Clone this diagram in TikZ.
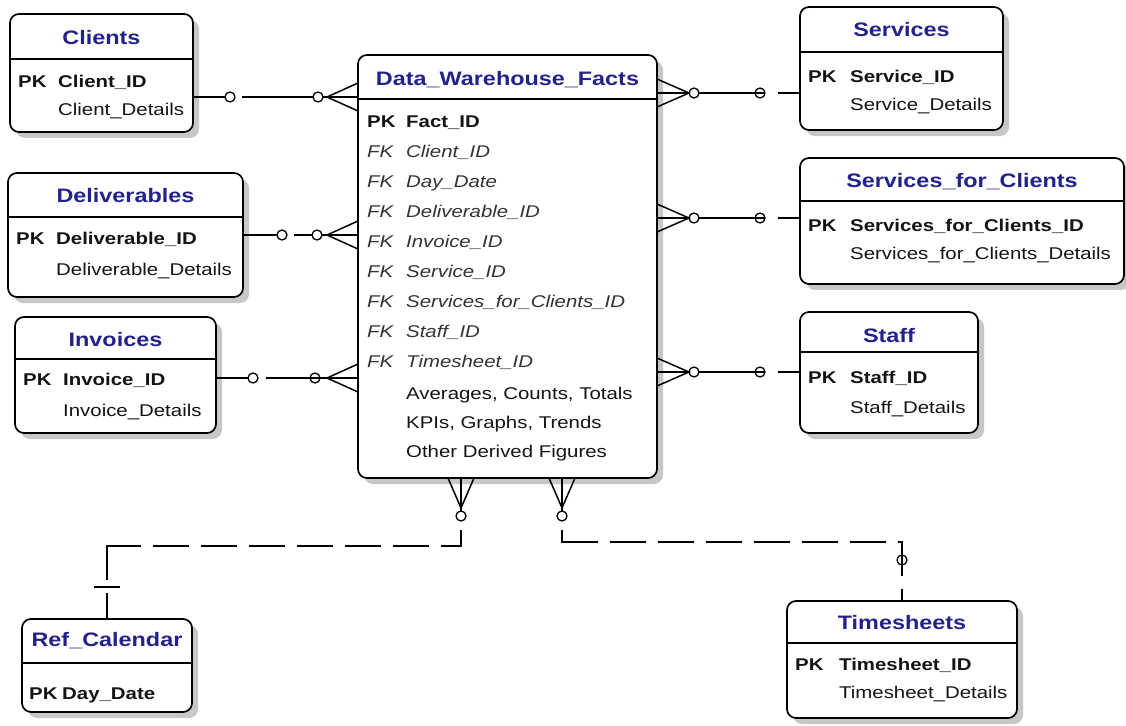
\documentclass[tikz,border=0pt]{standalone}
\usepackage{fontspec}
\setmainfont{Liberation Sans}[FakeStretch=1.2]
\usetikzlibrary{shadows,calc}
\definecolor{ttlblue}{HTML}{22228A}
\definecolor{txt}{HTML}{141414}
\definecolor{fktxt}{HTML}{333333}
\newcommand\entbox[6]{%
  \node[entity, minimum width={#4-#2}, minimum height={#5-#3}] (#1) at ({(#2+#4)/2},{(#3+#5)/2}) {};
  \draw[boxline] (#1.west |- 0,#6) -- (#1.east |- 0,#6);}
\begin{document}
\begin{tikzpicture}[x=1pt,y=-1pt,
  entity/.style={draw, line width=1.7pt, rounded corners=9pt, fill=white, inner sep=0pt, outer sep=0pt,
    drop shadow={shadow xshift=6pt, shadow yshift=-6pt, fill=black!22, opacity=1}},
  boxline/.style={line width=1.6pt},
  rel/.style={line width=1.5pt},
  ring/.style={circle, draw, line width=1.3pt, fill=white, inner sep=0pt, outer sep=0pt, minimum size=10pt},
  xring/.style={ring, fill=none},
  ttl/.style={font=\fontsize{19.5}{22}\selectfont\bfseries, text=ttlblue, anchor=base, inner sep=0pt},
  pkl/.style={font=\fontsize{17}{20}\selectfont\bfseries, text=txt, anchor=base west, inner sep=0pt},
  fkl/.style={font=\fontsize{17}{20}\selectfont\itshape, text=fktxt, anchor=base west, inner sep=0pt},
  atl/.style={font=\fontsize{17}{20}\selectfont, text=txt, anchor=base west, inner sep=0pt}]
\useasboundingbox (0,0) rectangle (1126,725);
\fill[white] (0,0) rectangle (1126,725);

% ---------- entities ----------
\entbox{clients}{10}{14}{193}{132}{59}
\node[ttl] (clients-t) at (101.5,45) {Clients};
\node[pkl] (clients-pk) at (18,87) {PK};
\node[pkl] (clients-id) at (58,87) {Client\_ID};
\node[atl] (clients-d) at (58,115) {Client\_Details};

\entbox{deliv}{8}{173}{243}{297}{217}
\node[ttl] (deliv-t) at (125.5,202) {Deliverables};
\node[pkl] (deliv-pk) at (16,244) {PK};
\node[pkl] (deliv-id) at (56,244) {Deliverable\_ID};
\node[atl] (deliv-d) at (56,275) {Deliverable\_Details};

\entbox{invoices}{15}{317}{216}{433}{359}
\node[ttl] (inv-t) at (115.5,346) {Invoices};
\node[pkl] (inv-pk) at (23,385) {PK};
\node[pkl] (inv-id) at (63,385) {Invoice\_ID};
\node[atl] (inv-d) at (63,416) {Invoice\_Details};

\entbox{services}{800}{7}{1003}{130}{52}
\node[ttl] (srv-t) at (901.5,37) {Services};
\node[pkl] (srv-pk) at (808,82) {PK};
\node[pkl] (srv-id) at (850,82) {Service\_ID};
\node[atl] (srv-d) at (850,110) {Service\_Details};

\entbox{sfc}{800}{158}{1124}{284}{201}
\node[ttl] (sfc-t) at (962,187) {Services\_for\_Clients};
\node[pkl] (sfc-pk) at (808,231) {PK};
\node[pkl] (sfc-id) at (850,231) {Services\_for\_Clients\_ID};
\node[atl] (sfc-d) at (850,259) {Services\_for\_Clients\_Details};

\entbox{staff}{800}{312}{978}{433}{352}
\node[ttl] (stf-t) at (889,342) {Staff};
\node[pkl] (stf-pk) at (808,383) {PK};
\node[pkl] (stf-id) at (850,383) {Staff\_ID};
\node[atl] (stf-d) at (850,413) {Staff\_Details};

\entbox{timesheets}{787}{601}{1017}{718}{643}
\node[ttl] (ts-t) at (902,629) {Timesheets};
\node[pkl] (ts-pk) at (795,670) {PK};
\node[pkl] (ts-id) at (839,670) {Timesheet\_ID};
\node[atl] (ts-d) at (839,698) {Timesheet\_Details};

\entbox{refcal}{22}{619}{192}{712}{663}
\node[ttl] (rc-t) at (107,646) {Ref\_Calendar};
\node[pkl] (rc-pk) at (29,699) {PK};
\node[pkl] (rc-id) at (62,699) {Day\_Date};

\entbox{facts}{358}{55}{657}{478}{99}
\node[ttl] (f-t) at (507.5,85) {Data\_Warehouse\_Facts};
\node[pkl] (f-pk) at (367,127) {PK};
\node[pkl] (f-id) at (406,127) {Fact\_ID};
\node[fkl] (f-fk1) at (367,157) {FK};
\node[fkl] (f-n1) at (406,157) {Client\_ID};
\node[fkl] (f-fk2) at (367,187) {FK};
\node[fkl] (f-n2) at (406,187) {Day\_Date};
\node[fkl] (f-fk3) at (367,217) {FK};
\node[fkl] (f-n3) at (406,217) {Deliverable\_ID};
\node[fkl] (f-fk4) at (367,247) {FK};
\node[fkl] (f-n4) at (406,247) {Invoice\_ID};
\node[fkl] (f-fk5) at (367,277) {FK};
\node[fkl] (f-n5) at (406,277) {Service\_ID};
\node[fkl] (f-fk6) at (367,307) {FK};
\node[fkl] (f-n6) at (406,307) {Services\_for\_Clients\_ID};
\node[fkl] (f-fk7) at (367,337) {FK};
\node[fkl] (f-n7) at (406,337) {Staff\_ID};
\node[fkl] (f-fk8) at (367,367) {FK};
\node[fkl] (f-n8) at (406,367) {Timesheet\_ID};
\node[atl] (f-a1) at (406,399) {Averages, Counts, Totals};
\node[atl] (f-a2) at (406,428) {KPIs, Graphs, Trends};
\node[atl] (f-a3) at (406,457) {Other Derived Figures};

% ---------- left relationships ----------
% Clients
\node[ring] (rc1) at (230,97) {};
\node[ring] (rc2) at (318,97) {};
\coordinate (ac) at (327,97);
\draw[rel] (clients.east |- rc1) -- (rc1.west);
\draw[rel] ($(rc1.east)+(7,0)$) -- (rc2.west);
\draw[rel] (rc2.east) -- (facts.west |- rc2);
\draw[rel] ($(facts.west |- ac)+(0,-14)$) -- (ac) -- ($(facts.west |- ac)+(0,14)$);
% Deliverables
\node[ring] (rd1) at (282,235) {};
\node[ring] (rd2) at (317,235) {};
\coordinate (ad) at (327,235);
\draw[rel] (deliv.east |- rd1) -- (rd1.west);
\draw[rel] ($(rd1.east)+(7,0)$) -- (rd2.west);
\draw[rel] (rd2.east) -- (facts.west |- rd2);
\draw[rel] ($(facts.west |- ad)+(0,-14)$) -- (ad) -- ($(facts.west |- ad)+(0,14)$);
% Invoices
\node[ring] (ri1) at (253,378) {};
\node[xring] (ri2) at (315,378) {};
\coordinate (ai) at (327,378);
\draw[rel] (invoices.east |- ri1) -- (ri1.west);
\draw[rel] ($(ri1.east)+(8,0)$) -- (facts.west |- ri2);
\draw[rel] ($(facts.west |- ai)+(0,-14)$) -- (ai) -- ($(facts.west |- ai)+(0,14)$);

% ---------- right relationships ----------
% Services
\node[ring] (rs1) at (694,93) {};
\node[xring] (rs2) at (760,93) {};
\coordinate (as) at (689,93);
\draw[rel] ($(facts.east |- as)+(0,-14)$) -- (as) -- ($(facts.east |- as)+(0,14)$);
\draw[rel] (facts.east |- as) -- (rs1.west);
\draw[rel] (rs1.east) -- (rs2.east);
\draw[rel] ($(rs2.east)+(13,0)$) -- (services.west |- rs2);
% Services_for_Clients
\node[ring] (rf1) at (694,218) {};
\node[xring] (rf2) at (760,218) {};
\coordinate (af) at (689,218);
\draw[rel] ($(facts.east |- af)+(0,-14)$) -- (af) -- ($(facts.east |- af)+(0,14)$);
\draw[rel] (facts.east |- af) -- (rf1.west);
\draw[rel] (rf1.east) -- (rf2.east);
\draw[rel] ($(rf2.east)+(13,0)$) -- (sfc.west |- rf2);
% Staff
\node[ring] (rt1) at (694,372) {};
\node[xring] (rt2) at (760,372) {};
\coordinate (at) at (689,372);
\draw[rel] ($(facts.east |- at)+(0,-14)$) -- (at) -- ($(facts.east |- at)+(0,14)$);
\draw[rel] (facts.east |- at) -- (rt1.west);
\draw[rel] (rt1.east) -- (rt2.east);
\draw[rel] ($(rt2.east)+(13,0)$) -- (staff.west |- rt2);

% ---------- bottom relationships ----------
% Ref_Calendar
\node[ring] (bl) at (461,516) {};
\coordinate (abl) at (461,508);
\draw[rel] ($(facts.south -| abl)+(-13,0)$) -- (abl) -- ($(facts.south -| abl)+(13,0)$);
\draw[rel] (facts.south -| abl) -- (bl.north);
\draw[rel, dash pattern=on 36pt off 12pt on 36pt off 12pt on 36pt off 12pt on 36pt off 12pt on 36pt off 12pt on 36pt off 12pt on 36pt off 12pt on 68pt off 13pt on 40pt]
  ($(bl.south)+(0,9)$) -- ++(0,16) -| (refcal.north);
\coordinate (xb) at (0,587);
\draw[rel] ($(refcal.north |- xb)+(-13,0)$) -- ($(refcal.north |- xb)+(13,0)$);
% Timesheets
\node[ring] (br) at (562,516) {};
\coordinate (abr) at (562,508);
\draw[rel] ($(facts.south -| abr)+(-13,0)$) -- (abr) -- ($(facts.south -| abr)+(13,0)$);
\draw[rel] (facts.south -| abr) -- (br.north);
\draw[rel, dash pattern=on 48pt off 12pt on 36pt off 12pt on 36pt off 12pt on 36pt off 12pt on 36pt off 12pt on 36pt off 12pt on 36pt off 12pt on 38pt off 13pt on 40pt]
  ($(br.south)+(0,9)$) -- ++(0,12) -| (timesheets.north);
\node[xring] (tr) at ($(timesheets.north)+(0,-41)$) {};
\end{tikzpicture}
\end{document}
